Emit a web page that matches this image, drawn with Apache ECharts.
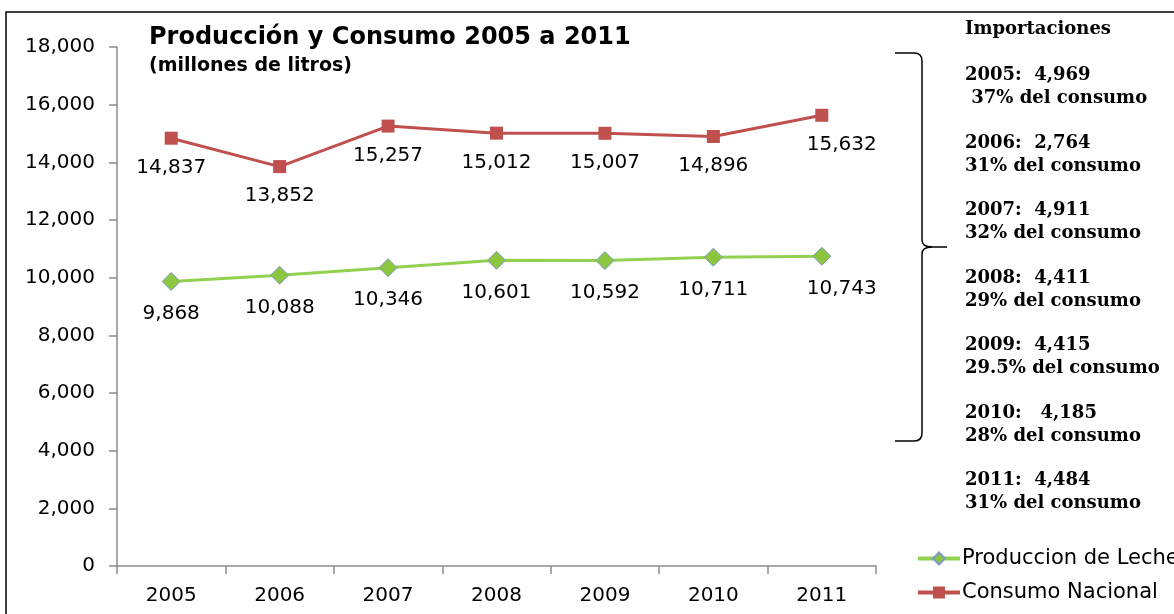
<!DOCTYPE html>
<html>
<head>
<meta charset="utf-8">
<script src="https://cdn.jsdelivr.net/npm/echarts@6/dist/echarts.min.js"></script>
<style>
  html, body { margin: 0; padding: 0; background: #fff; }
  #chart { width: 1174px; height: 614px; }
</style>
</head>
<body>
<div id="chart"></div>
<script>
// Producción y consumo de leche, millones de litros
const years = ['2005', '2006', '2007', '2008', '2009', '2010', '2011'];
const produccion = [9868, 10088, 10346, 10601, 10592, 10711, 10743];
const consumo = [14837, 13852, 15257, 15012, 15007, 14896, 15632];

// Importaciones por año
const impYears = ['2005', '2006', '2007', '2008', '2009', '2010', '2011'];
const impValues = ['4,969', '2,764', '4,911', '4,411', '4,415', '4,185', '4,484'];
const impShares = ['37%', '31%', '32%', '29%', '29.5%', '28%', '31%'];
const impSeparators = [':  ', ':  ', ':  ', ':  ', ':  ', ':   ', ':  '];
const impSharePrefix = [' ', '', '', '', '', '', ''];

const AXIS_FONT = 'DejaVu Sans';
const SERIF = 'DejaVu Serif';

const fmt = v => v.toLocaleString('en-US');

function lastShift(i) {
  return i === years.length - 1 ? [20, 0] : [0, 0];
}

const chart = echarts.init(document.getElementById('chart'), null, { renderer: 'canvas' });

// Side panel with import figures
const sideTexts = [{
  type: 'text', left: 965, top: 20,
  style: { text: 'Importaciones', font: 'bold 18px "' + SERIF + '"', fill: '#000' }
}];
impYears.forEach((y, i) => {
  const top = 64 + i * 67.5;
  sideTexts.push({
    type: 'text', left: 965, top: top,
    style: {
      text: y + impSeparators[i] + impValues[i] + '\n' + impSharePrefix[i] + impShares[i] + ' del consumo',
      font: 'bold 18px "' + SERIF + '"', fill: '#000', lineHeight: 23
    }
  });
});

// Curly brace grouping the import notes
const braceStyle = { stroke: '#000', lineWidth: 1.5, fill: null };
const brace = [
  { type: 'line', silent: true, shape: { x1: 895, y1: 53, x2: 914, y2: 53 }, style: braceStyle },
  { type: 'bezierCurve', silent: true, shape: { x1: 914, y1: 53, cpx1: 922, cpy1: 53, x2: 922, y2: 61 }, style: braceStyle },
  { type: 'line', silent: true, shape: { x1: 922, y1: 61, x2: 922, y2: 240 }, style: braceStyle },
  { type: 'bezierCurve', silent: true, shape: { x1: 922, y1: 240, cpx1: 922, cpy1: 247, x2: 932, y2: 247 }, style: braceStyle },
  { type: 'line', silent: true, shape: { x1: 932, y1: 247, x2: 947, y2: 247 }, style: braceStyle },
  { type: 'bezierCurve', silent: true, shape: { x1: 932, y1: 247, cpx1: 922, cpy1: 247, x2: 922, y2: 254 }, style: braceStyle },
  { type: 'line', silent: true, shape: { x1: 922, y1: 254, x2: 922, y2: 433 }, style: braceStyle },
  { type: 'bezierCurve', silent: true, shape: { x1: 922, y1: 433, cpx1: 922, cpy1: 441, x2: 914, y2: 441 }, style: braceStyle },
  { type: 'line', silent: true, shape: { x1: 914, y1: 441, x2: 895, y2: 441 }, style: braceStyle }
];

const option = {
  animation: false,
  backgroundColor: '#fff',
  title: {
    text: 'Producción y Consumo 2005 a 2011',
    subtext: '(millones de litros)',
    left: 144, top: 21,
    itemGap: 7,
    textStyle: { fontFamily: 'DejaVu Sans', fontWeight: 'bold', fontSize: 24, color: '#000' },
    subtextStyle: { fontFamily: 'DejaVu Sans', fontWeight: 'bold', fontSize: 19, color: '#000' }
  },
  legend: {
    orient: 'vertical',
    left: 911, top: 543,
    itemWidth: 42, itemHeight: 15, itemGap: 13,
    lineStyle: { width: 4 },
    textStyle: { fontFamily: AXIS_FONT, fontSize: 21, color: '#000', padding: [0, 0, 0, -3] },
    data: ['Produccion de Leche', 'Consumo Nacional']
  },
  grid: { left: 117, right: 298, top: 47, bottom: 48, containLabel: false },
  xAxis: {
    type: 'category',
    data: years,
    boundaryGap: true,
    axisLine: { lineStyle: { color: '#8c8c8c', width: 1.5 } },
    axisTick: { show: true, length: 8, lineStyle: { color: '#8c8c8c', width: 1.5 } },
    axisLabel: { fontFamily: AXIS_FONT, fontSize: 20, color: '#000', margin: 20 },
    splitLine: { show: false }
  },
  yAxis: {
    type: 'value',
    min: 0, max: 18000, interval: 2000,
    axisLine: { show: true, lineStyle: { color: '#8c8c8c', width: 1.5 } },
    axisTick: { show: true, inside: false, length: 8, lineStyle: { color: '#8c8c8c', width: 1.5 } },
    axisLabel: { fontFamily: AXIS_FONT, fontSize: 20, color: '#000', margin: 22, formatter: v => fmt(v) },
    splitLine: { show: false }
  },
  series: [
    {
      name: 'Produccion de Leche',
      type: 'line',
      data: produccion.map((v, i) => ({ value: v, label: { offset: lastShift(i) } })),
      symbol: 'diamond',
      symbolSize: 18,
      lineStyle: { color: '#92D050', width: 3 },
      itemStyle: { color: '#8CC63F', borderColor: '#7A9CC6', borderWidth: 1 },
      label: {
        show: true, position: 'bottom', distance: 13,
        fontFamily: AXIS_FONT, fontSize: 20, color: '#000',
        formatter: p => fmt(p.value)
      },
      z: 3
    },
    {
      name: 'Consumo Nacional',
      type: 'line',
      data: consumo.map((v, i) => ({ value: v, label: { offset: lastShift(i) } })),
      symbol: 'rect',
      symbolSize: 13,
      lineStyle: { color: '#C0504D', width: 3 },
      itemStyle: { color: '#C0504D', borderColor: '#C0504D', borderWidth: 0 },
      label: {
        show: true, position: 'bottom', distance: 13,
        fontFamily: AXIS_FONT, fontSize: 20, color: '#000',
        formatter: p => fmt(p.value)
      },
      z: 3
    }
  ],
  graphic: [
    // outer frame (top and left edges)
    {
      type: 'polyline', silent: true,
      shape: { points: [[6, 614], [6, 12], [1174, 12]] },
      style: { stroke: '#000', lineWidth: 1.5, fill: null }
    }
  ].concat(brace, sideTexts)
};

chart.setOption(option);
</script>
</body>
</html>
